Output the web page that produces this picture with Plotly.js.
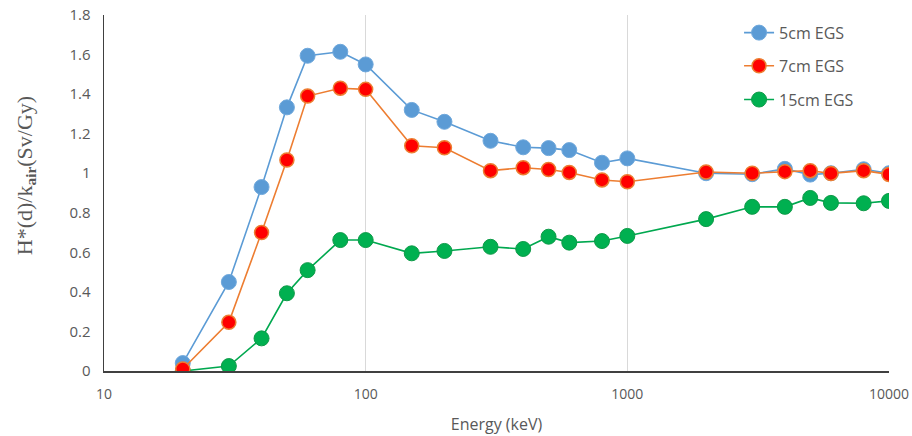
<!DOCTYPE html>
<html>
<head>
<meta charset="utf-8">
<script src="https://cdn.plot.ly/plotly-3.0.1.min.js"></script>
<style>html,body{margin:0;padding:0;background:#fff;}#chart{width:912px;height:436px;}</style>
</head>
<body>
<div id="chart"></div>
<script>
var energy = [20, 30, 40, 50, 60, 80, 100, 150, 200, 300, 400, 500, 600, 800, 1000, 2000, 3000, 4000, 5000, 6000, 8000, 10000];
var egs5 = [0.04, 0.45, 0.93, 1.333, 1.594, 1.614, 1.55, 1.32, 1.26, 1.164, 1.131, 1.127, 1.117, 1.053, 1.075, 1.0, 0.995, 1.022, 0.993, 1.0, 1.02, 1.0];
var egs7 = [0.01, 0.246, 0.70, 1.067, 1.39, 1.43, 1.424, 1.139, 1.129, 1.013, 1.028, 1.019, 1.004, 0.966, 0.957, 1.006, 1.0, 1.008, 1.013, 0.999, 1.013, 0.994];
var egs15 = [0.0, 0.025, 0.165, 0.393, 0.51, 0.662, 0.662, 0.595, 0.607, 0.628, 0.617, 0.679, 0.649, 0.657, 0.683, 0.768, 0.83, 0.83, 0.875, 0.85, 0.848, 0.86];
var names = ["5cm EGS", "7cm EGS", "15cm EGS"];
var xTicks = [10, 100, 1000, 10000];
var xTickText = ["10", "100", "1000", "10000"];
var yTicks = [0, 0.2, 0.4, 0.6, 0.8, 1, 1.2, 1.4, 1.6, 1.8];
var yTickText = ["0", "0.2", "0.4", "0.6", "0.8", "1", "1.2", "1.4", "1.6", "1.8"];
var xTitle = "Energy (keV)";
var yTitle = "H*(d)/k<sub><b>air</b></sub>(Sv/Gy)";

var traces = [
  {x: energy, y: egs15, name: names[2], type: 'scatter', mode: 'lines+markers', legend: 'legend3',
   line: {color: '#00A84F', width: 1.6}, marker: {color: '#00B050', size: 15, line: {color: '#0E9A48', width: 1}}},
  {x: energy, y: egs5, name: names[0], type: 'scatter', mode: 'lines+markers', legend: 'legend',
   line: {color: '#5B9BD5', width: 1.6}, marker: {color: '#5B9BD5', size: 15, line: {color: '#6FA8DC', width: 1}}},
  {x: energy, y: egs7, name: names[1], type: 'scatter', mode: 'lines+markers', legend: 'legend2',
   line: {color: '#ED7D31', width: 1.6}, marker: {color: '#FF0000', size: 14, line: {color: '#ED7D31', width: 1.5}}}
];

var legFont = {family: 'Open Sans, Liberation Sans, sans-serif', size: 16, color: '#595959'};
var tickFam = 'Open Sans, Liberation Sans, sans-serif';
var layout = {
  width: 912, height: 436,
  margin: {l: 104, r: 23, t: 15, b: 65},
  paper_bgcolor: '#ffffff', plot_bgcolor: '#ffffff',
  showlegend: true,
  legend: {x: 0.809, y: 0.998, xanchor: 'left', yanchor: 'top', bgcolor: 'rgba(0,0,0,0)', font: legFont},
  legend2: {x: 0.809, y: 0.905, xanchor: 'left', yanchor: 'top', bgcolor: 'rgba(0,0,0,0)', font: legFont},
  legend3: {x: 0.809, y: 0.81, xanchor: 'left', yanchor: 'top', bgcolor: 'rgba(0,0,0,0)', font: legFont},
  xaxis: {
    type: 'log', range: [1, 4],
    tickvals: xTicks, ticktext: xTickText,
    showgrid: true, gridcolor: '#D9D9D9', gridwidth: 1,
    showline: true, linecolor: '#404040', linewidth: 1.5,
    ticks: '', zeroline: false, ticklabelstandoff: 10,
    tickfont: {family: tickFam, size: 14, color: '#595959'},
    title: {text: xTitle, font: {family: tickFam, size: 16, color: '#595959'}, standoff: 16}
  },
  yaxis: {
    range: [0, 1.8],
    tickvals: yTicks, ticktext: yTickText,
    showgrid: false, zeroline: false,
    showline: true, linecolor: '#404040', linewidth: 1.5,
    ticks: '', ticklabelstandoff: 9,
    tickfont: {family: tickFam, size: 15, color: '#595959'}
  },
  annotations: [{
    text: yTitle, xref: 'paper', yref: 'paper', x: -0.0994, y: 0.55,
    xanchor: 'center', yanchor: 'middle', textangle: -90, showarrow: false,
    font: {family: 'Liberation Serif, DejaVu Serif, serif', size: 22, color: '#595959'}
  }]
};
Plotly.newPlot('chart', traces, layout, {displayModeBar: false, staticPlot: true});
</script>
</body>
</html>
